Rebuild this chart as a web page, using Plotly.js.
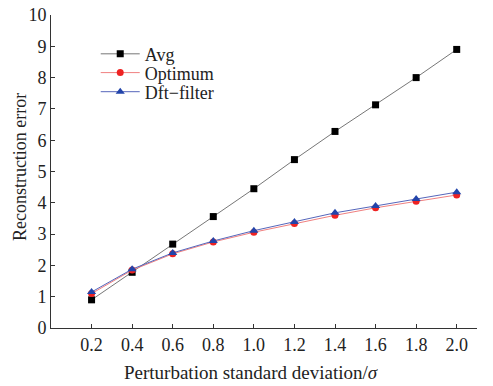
<!DOCTYPE html>
<html>
<head>
<meta charset="utf-8">
<script src="https://cdn.plot.ly/plotly-3.0.1.min.js"></script>
<style>html,body{margin:0;padding:0;background:#fff;}#chart{width:493px;height:386px;}</style>
</head>
<body>
<div id="chart"></div>
<script>
const sigma = [0.2, 0.4, 0.6, 0.8, 1.0, 1.2, 1.4, 1.6, 1.8, 2.0];
const avg = [0.90, 1.78, 2.68, 3.56, 4.45, 5.38, 6.28, 7.13, 8.00, 8.90];
const optimum = [1.10, 1.85, 2.37, 2.75, 3.06, 3.34, 3.60, 3.84, 4.05, 4.25];
const dftFilter = [1.15, 1.88, 2.40, 2.78, 3.11, 3.39, 3.68, 3.90, 4.12, 4.34];
const seriesNames = ['Avg', 'Optimum', 'Dft\u2212filter'];
const xTickVals = [0.2, 0.4, 0.6, 0.8, 1.0, 1.2, 1.4, 1.6, 1.8, 2.0];
const xTickText = ['0.2', '0.4', '0.6', '0.8', '1.0', '1.2', '1.4', '1.6', '1.8', '2.0'];
const yTickVals = [0, 1, 2, 3, 4, 5, 6, 7, 8, 9, 10];
const xTitle = 'Perturbation standard deviation/<i>σ</i>';
const yTitle = 'Reconstruction error';

const font = 'Liberation Serif, Times New Roman, serif';
const traces = [
  {x: sigma, y: avg, name: seriesNames[0], mode: 'lines+markers', legend: 'legend',
   line: {color: '#777777', width: 1}, marker: {symbol: 'square', size: 7, color: '#000000'}},
  {x: sigma, y: optimum, name: seriesNames[1], mode: 'lines+markers', legend: 'legend2',
   line: {color: '#f08080', width: 1}, marker: {symbol: 'circle', size: 7, color: '#ee2222'}},
  {x: sigma, y: dftFilter, name: seriesNames[2], mode: 'lines+markers', legend: 'legend3',
   line: {color: '#5566bb', width: 1}, marker: {symbol: 'triangle-up', size: 8, color: '#2244aa'}}
];
function leg(y) {
  return {x: 0.105, y: y, xanchor: 'left', yanchor: 'middle', bgcolor: 'rgba(0,0,0,0)',
          font: {family: font, size: 18, color: '#222'}, itemwidth: 39};
}
const layout = {
  width: 493, height: 386,
  margin: {l: 51, r: 16, t: 15, b: 58},
  paper_bgcolor: '#ffffff', plot_bgcolor: '#ffffff',
  font: {family: font, color: '#222222', size: 15},
  showlegend: true,
  legend: leg(0.875), legend2: leg(0.815), legend3: leg(0.754),
  xaxis: {range: [0, 2.1], tickvals: xTickVals, ticktext: xTickText, ticks: 'inside', ticklen: 4,
          tickcolor: '#333', showline: true, linecolor: '#333', linewidth: 1, showgrid: false, zeroline: false,
          tickfont: {family: font, size: 18, color: '#222'}},
  yaxis: {range: [0, 10], tickvals: yTickVals, ticks: 'inside', ticklen: 4,
          tickcolor: '#333', showline: true, linecolor: '#333', linewidth: 1, showgrid: false, zeroline: false,
          tickfont: {family: font, size: 18, color: '#222'}},
  annotations: [
    {text: xTitle, xref: 'paper', yref: 'paper', x: 0.469, y: -0.1406, xanchor: 'center', yanchor: 'middle',
     showarrow: false, font: {family: font, size: 19, color: '#222'}},
    {text: yTitle, xref: 'paper', yref: 'paper', x: -0.0728, y: 0.514, xanchor: 'center', yanchor: 'middle',
     textangle: -90, showarrow: false, font: {family: font, size: 18, color: '#222'}}
  ]
};
Plotly.newPlot('chart', traces, layout, {staticPlot: true, displayModeBar: false});
</script>
</body>
</html>
